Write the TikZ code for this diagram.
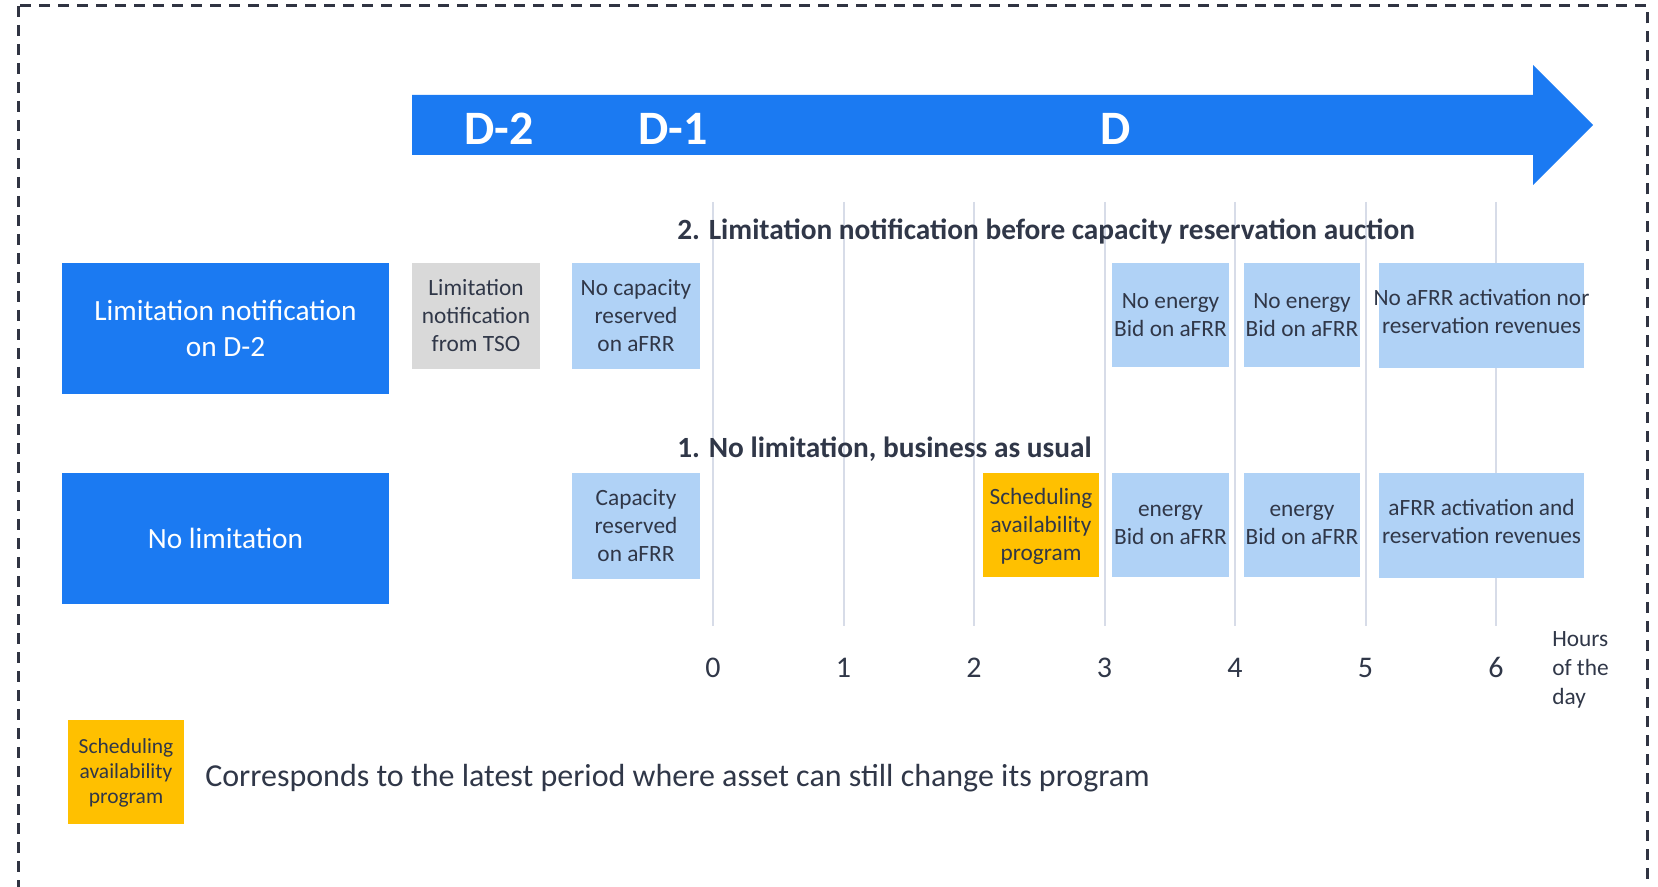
\documentclass[tikz,border=0pt]{standalone}
\usepackage{fontspec}
\setmainfont{Carlito}
\newdimen\pxu \pxu=0.75pt
\definecolor{bblue}{RGB}{27,122,242}
\definecolor{lblue}{RGB}{176,210,246}
\definecolor{lgray}{RGB}{217,217,217}
\definecolor{orng}{RGB}{255,192,0}
\definecolor{txt}{RGB}{48,55,72}
\definecolor{gridc}{RGB}{215,220,232}
\definecolor{bord}{RGB}{48,52,66}
\begin{document}
\begin{tikzpicture}[x=0.75pt,y=-0.75pt,
  cell/.style={inner sep=0pt, outer sep=0pt},
  boxtxt/.style={inner sep=0pt, align=center, text=txt, font=\fontsize{17.5pt}{21pt}\selectfont},
  lefttxt/.style={inner sep=0pt, align=center, text=white, font=\fontsize{22pt}{27pt}\selectfont},
  daylbl/.style={inner sep=0pt, text=white, font=\fontsize{36pt}{40pt}\selectfont\bfseries},
  titletxt/.style={inner sep=0pt, text=txt, font=\fontsize{22pt}{26pt}\selectfont\bfseries},
  hourtxt/.style={inner sep=0pt, text=txt, font=\fontsize{22.5pt}{26pt}\selectfont},
  gridline/.style={draw=gridc, line width=1.5pt}
]
\useasboundingbox (0,0) rectangle (1658,887);
\begin{scope}
\clip (0,0) rectangle (1658,887);
\draw[bord, line width=2.25pt, dash pattern=on 11\pxu off 8\pxu] (18.5,6) rectangle (1647,920);
\end{scope}

% timeline arrow
\fill[bblue] (412,95) -- (1533,95) -- (1533,65) -- (1593,125) -- (1533,185) -- (1533,155) -- (412,155) -- cycle;
\node[daylbl] (d2) at (499,129) {D-2};
\node[daylbl] (d1) at (673,129) {D-1};
\node[daylbl] (d0) at (1116,129) {D};

% grid lines and hours
\foreach \h in {0,...,6} {
  \draw[gridline] (713+130.5*\h,202) -- (713+130.5*\h,626);
  \node[hourtxt, anchor=base] (h\h) at (713+130.5*\h,677) {\h};
}
\node[inner sep=0pt, anchor=west, align=left, text=txt, font=\fontsize{17.5pt}{22pt}\selectfont] (hours) at (1552,670) {Hours\\of the\\day};

% titles
\node[titletxt, anchor=base west] (title2) at (677,240) {2. Limitation notification before capacity reservation auction};
\node[titletxt, anchor=base west] (title1) at (677,457) {1. No limitation, business as usual};

% left blue boxes
\node[cell, fill=bblue, minimum width=327\pxu, minimum height=131\pxu] (limbox) at (225.5,328.5) {};
\node[lefttxt] (limtxt) at (limbox) {Limitation notification\\on D-2};
\node[cell, fill=bblue, minimum width=327\pxu, minimum height=131\pxu] (nolimbox) at (225.5,538.5) {};
\node[lefttxt] (nolimtxt) at (nolimbox) {No limitation};

% row 2 (top)
\node[cell, fill=lgray, minimum width=128\pxu, minimum height=106\pxu] (tso) at (476,316) {};
\node[boxtxt] (tsot) at (tso) {Limitation\\notification\\from TSO};
\node[cell, fill=lblue, minimum width=128\pxu, minimum height=106\pxu] (nocap) at (636,316) {};
\node[boxtxt] (nocapt) at (nocap) {No capacity\\reserved\\on aFRR};
\node[cell, fill=lblue, minimum width=117\pxu, minimum height=104\pxu] (noe1) at (1170.5,315) {};
\node[boxtxt] (noe1t) at (noe1) {No energy\\Bid on aFRR};
\node[cell, fill=lblue, minimum width=116\pxu, minimum height=104\pxu] (noe2) at (1302,315) {};
\node[boxtxt] (noe2t) at (noe2) {No energy\\Bid on aFRR};
\node[cell, fill=lblue, minimum width=205.5\pxu, minimum height=105\pxu] (norev) at (1481.5,315.5) {};
\node[boxtxt] (norevt) at (1481.5,312) {No aFRR activation nor\\reservation revenues};

% row 1 (bottom)
\node[cell, fill=lblue, minimum width=128\pxu, minimum height=106\pxu] (cap) at (636,526) {};
\node[boxtxt] (capt) at (cap) {Capacity\\reserved\\on aFRR};
\node[cell, fill=orng, minimum width=116\pxu, minimum height=104\pxu] (sched) at (1041,525) {};
\node[boxtxt] (schedt) at (1041,526) {Scheduling\\availability\\program};
\node[cell, fill=lblue, minimum width=117\pxu, minimum height=104\pxu] (e1) at (1170.5,525) {};
\node[boxtxt] (e1t) at (e1) {energy\\Bid on aFRR};
\node[cell, fill=lblue, minimum width=116\pxu, minimum height=104\pxu] (e2) at (1302,525) {};
\node[boxtxt] (e2t) at (e2) {energy\\Bid on aFRR};
\node[cell, fill=lblue, minimum width=205.5\pxu, minimum height=105\pxu] (rev) at (1481.5,525.5) {};
\node[boxtxt] (revt) at (1481.5,521) {aFRR activation and\\reservation revenues};

% legend
\node[cell, fill=orng, minimum width=116\pxu, minimum height=104\pxu] (leg) at (126,772) {};
\node[inner sep=0pt, align=center, text=txt, font=\fontsize{16.1pt}{19pt}\selectfont] (legt) at (126,773) {Scheduling\\availability\\program};
\node[inner sep=0pt, anchor=base west, text=txt, font=\fontsize{24pt}{28pt}\selectfont] (legdesc) at (205,786) {Corresponds to the latest period where asset can still change its program};
\end{tikzpicture}
\end{document}
